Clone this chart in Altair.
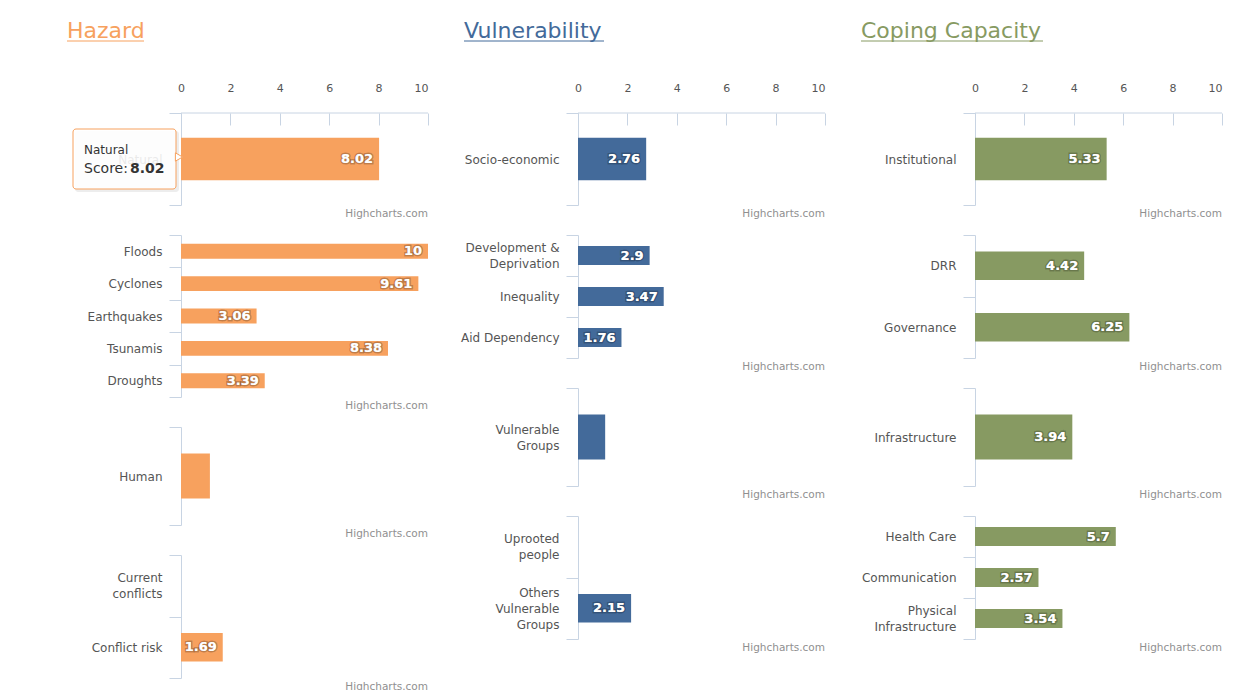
import altair as alt
import pandas as pd

FONT = "DejaVu Sans"
AXIS_COLOR = "#C8D4E3"
LABEL_COLOR = "#555555"
CREDIT_COLOR = "#909090"
PLOT_W = 247

# ---------------- data ----------------
x_ticks = [0, 2, 4, 6, 8, 10]
credit_text = "Highcharts.com"
hidden_labels = ["Human", "Vulnerable\nGroups"]

# Hazard
hazard_title = "Hazard"
hazard_color = "#F7A15E"
natural_cats = ["Natural"]
natural_vals = [8.02]
natural_sub_cats = ["Floods", "Cyclones", "Earthquakes", "Tsunamis", "Droughts"]
natural_sub_vals = [10, 9.61, 3.06, 8.38, 3.39]
human_cats = ["Human"]
human_vals = [1.17]
conflict_cats = ["Current\nconflicts", "Conflict risk"]
conflict_vals = [None, 1.69]

# Vulnerability
vuln_title = "Vulnerability"
vuln_color = "#436A9A"
socio_cats = ["Socio-economic"]
socio_vals = [2.76]
socio_sub_cats = ["Development &\nDeprivation", "Inequality", "Aid Dependency"]
socio_sub_vals = [2.9, 3.47, 1.76]
vgroups_cats = ["Vulnerable\nGroups"]
vgroups_vals = [1.1]
vgroups_sub_cats = ["Uprooted\npeople", "Others\nVulnerable\nGroups"]
vgroups_sub_vals = [None, 2.15]

# Coping capacity
coping_title = "Coping Capacity"
coping_color = "#879A62"
inst_cats = ["Institutional"]
inst_vals = [5.33]
inst_sub_cats = ["DRR", "Governance"]
inst_sub_vals = [4.42, 6.25]
infra_cats = ["Infrastructure"]
infra_vals = [3.94]
infra_sub_cats = ["Health Care", "Communication", "Physical\nInfrastructure"]
infra_sub_vals = [5.7, 2.57, 3.54]

tooltip_score_label = "Score:"

LINES = "length(split(datum.label, '\\n'))"
LABEL_OFFSET = {
    "condition": [
        {"test": LINES + " == 3", "value": -16},
        {"test": LINES + " == 2", "value": -8},
    ],
    "value": 0,
}


def panel(cats, vals, color, height, top_axis=False, tooltip=False):
    df = pd.DataFrame({"cat": cats, "value": vals})
    df["label"] = ["" if (v is None or c in hidden_labels) else f"{v:g}"
                   for c, v in zip(cats, vals)]
    y = alt.Y(
        "cat:N", title=None,
        scale=alt.Scale(domain=cats, paddingInner=0, paddingOuter=0),
        axis=alt.Axis(
            domain=True, domainColor=AXIS_COLOR, domainWidth=1,
            ticks=True, tickColor=AXIS_COLOR, tickSize=12, tickBand="extent",
            grid=False, labelPadding=7, labelColor=LABEL_COLOR, labelFont=FONT,
            labelFontSize=12, labelLineHeight=16,
            labelExpr="split(datum.label, '\\n')",
            labelOffset=LABEL_OFFSET,
        ),
    )
    if top_axis:
        xaxis = alt.Axis(
            orient="top", values=x_ticks, title=None, grid=False, domain=False,
            ticks=True, tickSize=12, tickColor=AXIS_COLOR, offset=-12,
            labelPadding=20, labelFont=FONT, labelFontSize=11,
            labelColor=LABEL_COLOR, labelFlush=False,
            labelAlign=alt.condition("datum.value == 10", alt.value("right"), alt.value("center")),
        )
    else:
        xaxis = None
    x = alt.X("value:Q", scale=alt.Scale(domain=[0, 10], nice=False), axis=xaxis)

    base = alt.Chart(df)
    bars = base.mark_bar(color=color, height={"band": 0.46}).encode(x=x, y=y)
    glow = base.mark_text(
        align="right", baseline="middle", dx=-6, font=FONT, fontSize=13,
        fontWeight="bold", fill="white", stroke="black", strokeWidth=3,
        strokeOpacity=0.22,
    ).encode(x=x, y=y, text="label:N")
    labels = base.mark_text(
        align="right", baseline="middle", dx=-6, font=FONT, fontSize=13,
        fontWeight="bold", fill="white",
    ).encode(x=x, y=y, text="label:N")

    layers = [bars, glow, labels]

    one = alt.Chart(pd.DataFrame({"t": [credit_text]}))
    if top_axis:
        layers.append(one.mark_rule(color=AXIS_COLOR, strokeWidth=1).encode(
            x=alt.value(0), x2=alt.value(PLOT_W), y=alt.value(0)))
    layers.append(one.mark_text(
        align="right", baseline="middle", font=FONT, fontSize=10.5,
        color=CREDIT_COLOR).encode(x=alt.value(PLOT_W), y=alt.value(height + 9), text="t:N"))

    if tooltip:
        tip = alt.Chart(pd.DataFrame({
            "name": [cats[0]], "score": [tooltip_score_label], "val": [f"{vals[0]:g}"]}))
        layers += [
            tip.mark_rect(fill="black", opacity=0.07, cornerRadius=3).encode(
                x=alt.value(-106), x2=alt.value(-2), y=alt.value(18), y2=alt.value(79)),
            tip.mark_rect(fill="white", fillOpacity=0.88, stroke=color,
                          strokeWidth=1, cornerRadius=3).encode(
                x=alt.value(-108), x2=alt.value(-5), y=alt.value(16), y2=alt.value(76)),
            tip.mark_point(shape="triangle-right", filled=True, fill="white",
                           stroke=color, strokeWidth=1, size=70, opacity=1).encode(
                x=alt.value(-2), y=alt.value(44)),
            tip.mark_text(align="left", baseline="middle", font=FONT, fontSize=12,
                          color="#333333").encode(
                x=alt.value(-97), y=alt.value(37), text="name:N"),
            tip.mark_text(align="left", baseline="middle", font=FONT, fontSize=14,
                          color="#333333").encode(
                x=alt.value(-97), y=alt.value(56), text="score:N"),
            tip.mark_text(align="left", baseline="middle", font=FONT, fontSize=14,
                          fontWeight="bold", color="#333333").encode(
                x=alt.value(-51), y=alt.value(56), text="val:N"),
        ]
    return alt.layer(*layers).properties(width=PLOT_W, height=height)


def title_panel(text, color, underline_w):
    b = alt.Chart(pd.DataFrame({"t": [text]}))
    txt = b.mark_text(align="left", baseline="alphabetic", font=FONT,
                      fontSize=22, color=color).encode(
        x=alt.value(-114), y=alt.value(15), text="t:N")
    ul = b.mark_rule(color=color, strokeWidth=1).encode(
        x=alt.value(-114), x2=alt.value(-114 + underline_w), y=alt.value(18))
    return alt.layer(txt, ul).properties(width=PLOT_W, height=60)


col1 = alt.vconcat(
    title_panel(hazard_title, hazard_color, 77),
    panel(natural_cats, natural_vals, hazard_color, 92, top_axis=True, tooltip=True),
    panel(natural_sub_cats, natural_sub_vals, hazard_color, 162),
    panel(human_cats, human_vals, hazard_color, 98),
    panel(conflict_cats, conflict_vals, hazard_color, 123),
    spacing=30, bounds="flush",
)
col2 = alt.vconcat(
    title_panel(vuln_title, vuln_color, 140),
    panel(socio_cats, socio_vals, vuln_color, 92, top_axis=True),
    panel(socio_sub_cats, socio_sub_vals, vuln_color, 123),
    panel(vgroups_cats, vgroups_vals, vuln_color, 98),
    panel(vgroups_sub_cats, vgroups_sub_vals, vuln_color, 123),
    spacing=30, bounds="flush",
)
col3 = alt.vconcat(
    title_panel(coping_title, coping_color, 182),
    panel(inst_cats, inst_vals, coping_color, 92, top_axis=True),
    panel(inst_sub_cats, inst_sub_vals, coping_color, 123),
    panel(infra_cats, infra_vals, coping_color, 98),
    panel(infra_sub_cats, infra_sub_vals, coping_color, 123),
    spacing=30, bounds="flush",
)

chart = alt.hconcat(col1, col2, col3, spacing=397, bounds="flush").properties(
    padding={"left": 58, "top": 12, "right": 0, "bottom": 0}
).configure_view(stroke=None)

chart.save("out.html", embed_options={"renderer": "svg", "actions": False})
